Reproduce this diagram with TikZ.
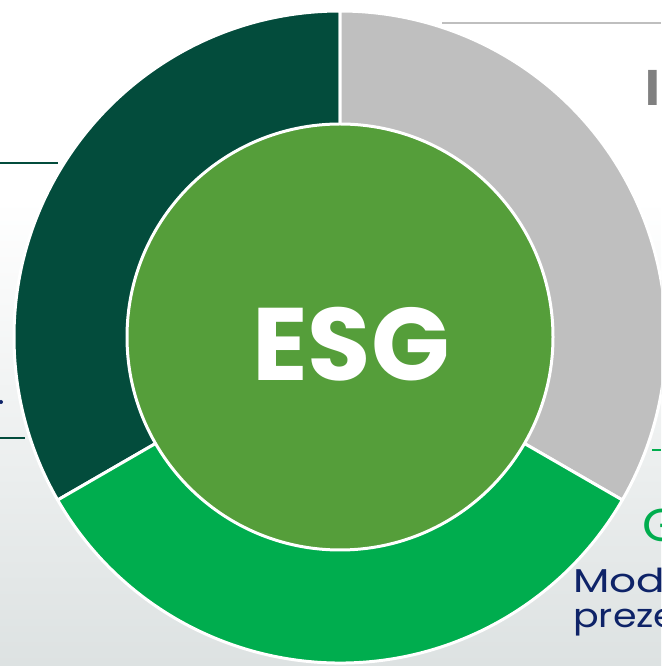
\documentclass[tikz,border=0pt]{standalone}
\usepackage{fontspec}
\setmainfont{Poppins}
\definecolor{esgdark}{HTML}{034C3C}
\definecolor{esggray}{HTML}{BFBFBF}
\definecolor{esgbright}{HTML}{00AD4E}
\definecolor{esgmid}{HTML}{559E3A}
\definecolor{esgnavy}{HTML}{0E2368}
\definecolor{esgbg}{HTML}{DDE2E2}
\tikzset{
  segment/.style={draw=white, line width=3pt, line join=round},
  sidetext/.style={anchor=base west, inner sep=0pt, transform shape}
}
\begin{document}
\begin{tikzpicture}[x=1pt, y=1pt]
    \useasboundingbox (0,0) rectangle (661,666);
    \clip (0,0) rectangle (661,666);
    % background
    \fill[white] (0,466) rectangle (661,666);
    \shade[top color=white, bottom color=esgbg] (0,0) rectangle (661,466);

    % side lines
    \draw[color=esggray, line width=2.5pt] (442,643) -- (661,643);
    \draw[color=esgdark, line width=2pt] (0,503) -- (58,503);
    \draw[color=esgdark, line width=2pt] (0,228) -- (25,228);
    \draw[color=esgbright, line width=2pt] (652,216) -- (661,216);
    \fill[color=esgnavy] (1,264) circle(2);

    % ring
    \coordinate (c) at (340,329);
    \filldraw[segment, fill=esgdark] (c) -- ++(90:326) arc (90:210:326) -- cycle;
    \filldraw[segment, fill=esggray] (c) -- ++(-30:326) arc (-30:90:326) -- cycle;
    \filldraw[segment, fill=esgbright] (c) -- ++(210:326) arc (210:330:326) -- cycle;
    \filldraw[segment, fill=esgmid] (c) circle(213);
    \node[text=white, font=\fontsize{103}{103}\selectfont\bfseries] (esg) at (351,322) {ESG};

    % texts at the right
    \node[sidetext, text=gray, font=\fontsize{50}{50}\selectfont\bfseries] (impact) at (645,560) {IN};
    \node[sidetext, text=esgbright, font=\fontsize{46}{46}\selectfont, xscale=1.1] (gov) at (642,124) {G};
    \node[sidetext, text=esgnavy, font=\fontsize{33}{33}\selectfont, xscale=1.28] (model) at (573,73) {Model};
    \node[sidetext, text=esgnavy, font=\fontsize{33}{33}\selectfont, xscale=1.15] (preze) at (573,38) {prezentacji};
\end{tikzpicture}
\end{document}
